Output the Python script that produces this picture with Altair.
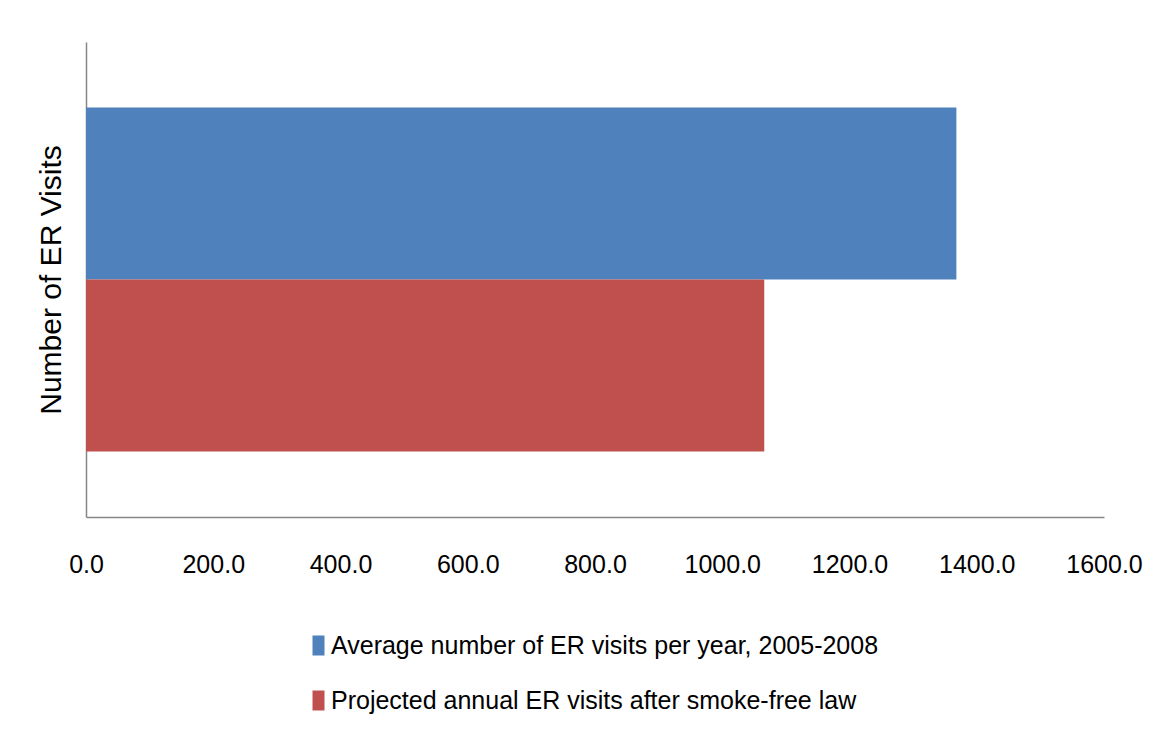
import altair as alt
import pandas as pd

series = [
    "Average number of ER visits per year, 2005-2008",
    "Projected annual ER visits after smoke-free law",
]
values = [1368, 1066]
colors = ["#4F81BD", "#C0504D"]
x_ticks = [0, 200, 400, 600, 800, 1000, 1200, 1400, 1600]

df = pd.DataFrame({"series": series, "visits": values})

FONT = "Liberation Sans"

chart = (
    alt.Chart(df)
    .mark_bar()
    .encode(
        x=alt.X(
            "visits:Q",
            scale=alt.Scale(domain=[0, 1600], nice=False),
            axis=alt.Axis(
                values=x_ticks,
                format=".1f",
                title=None,
                grid=False,
                ticks=False,
                domainColor="#868686",
                domainWidth=1.5,
                labelFontSize=25,
                labelFont=FONT,
                labelColor="black",
                labelPadding=35,
                labelFlush=False,
                labelOverlap=False,
            ),
        ),
        y=alt.Y(
            "series:N",
            sort=series,
            scale=alt.Scale(paddingInner=0, paddingOuter=0.381),
            axis=alt.Axis(
                title="Number of ER Visits",
                labels=False,
                ticks=False,
                domainColor="#868686",
                domainWidth=1.5,
                titleFontSize=30,
                titleFont=FONT,
                titleFontWeight="normal",
                titleColor="black",
                titlePadding=20,
            ),
        ),
        color=alt.Color(
            "series:N",
            scale=alt.Scale(domain=series, range=colors),
            legend=alt.Legend(
                title=None,
                orient="none",
                legendX=220,
                legendY=591,
                direction="vertical",
                symbolType="M-0.6,-1H0.6V1H-0.6Z",
                symbolSize=400,
                symbolStrokeWidth=0,
                labelFontSize=25,
                labelFont=FONT,
                labelColor="black",
                labelLimit=800,
                rowPadding=29,
                labelOffset=0,
            ),
        ),
    )
    .properties(
        width=1018,
        height=475,
        padding={"left": 28, "top": 34, "right": 5, "bottom": 5},
    )
    .configure_view(stroke=None)
)

chart.save("out.html", embed_options={"renderer": "svg", "actions": False})
